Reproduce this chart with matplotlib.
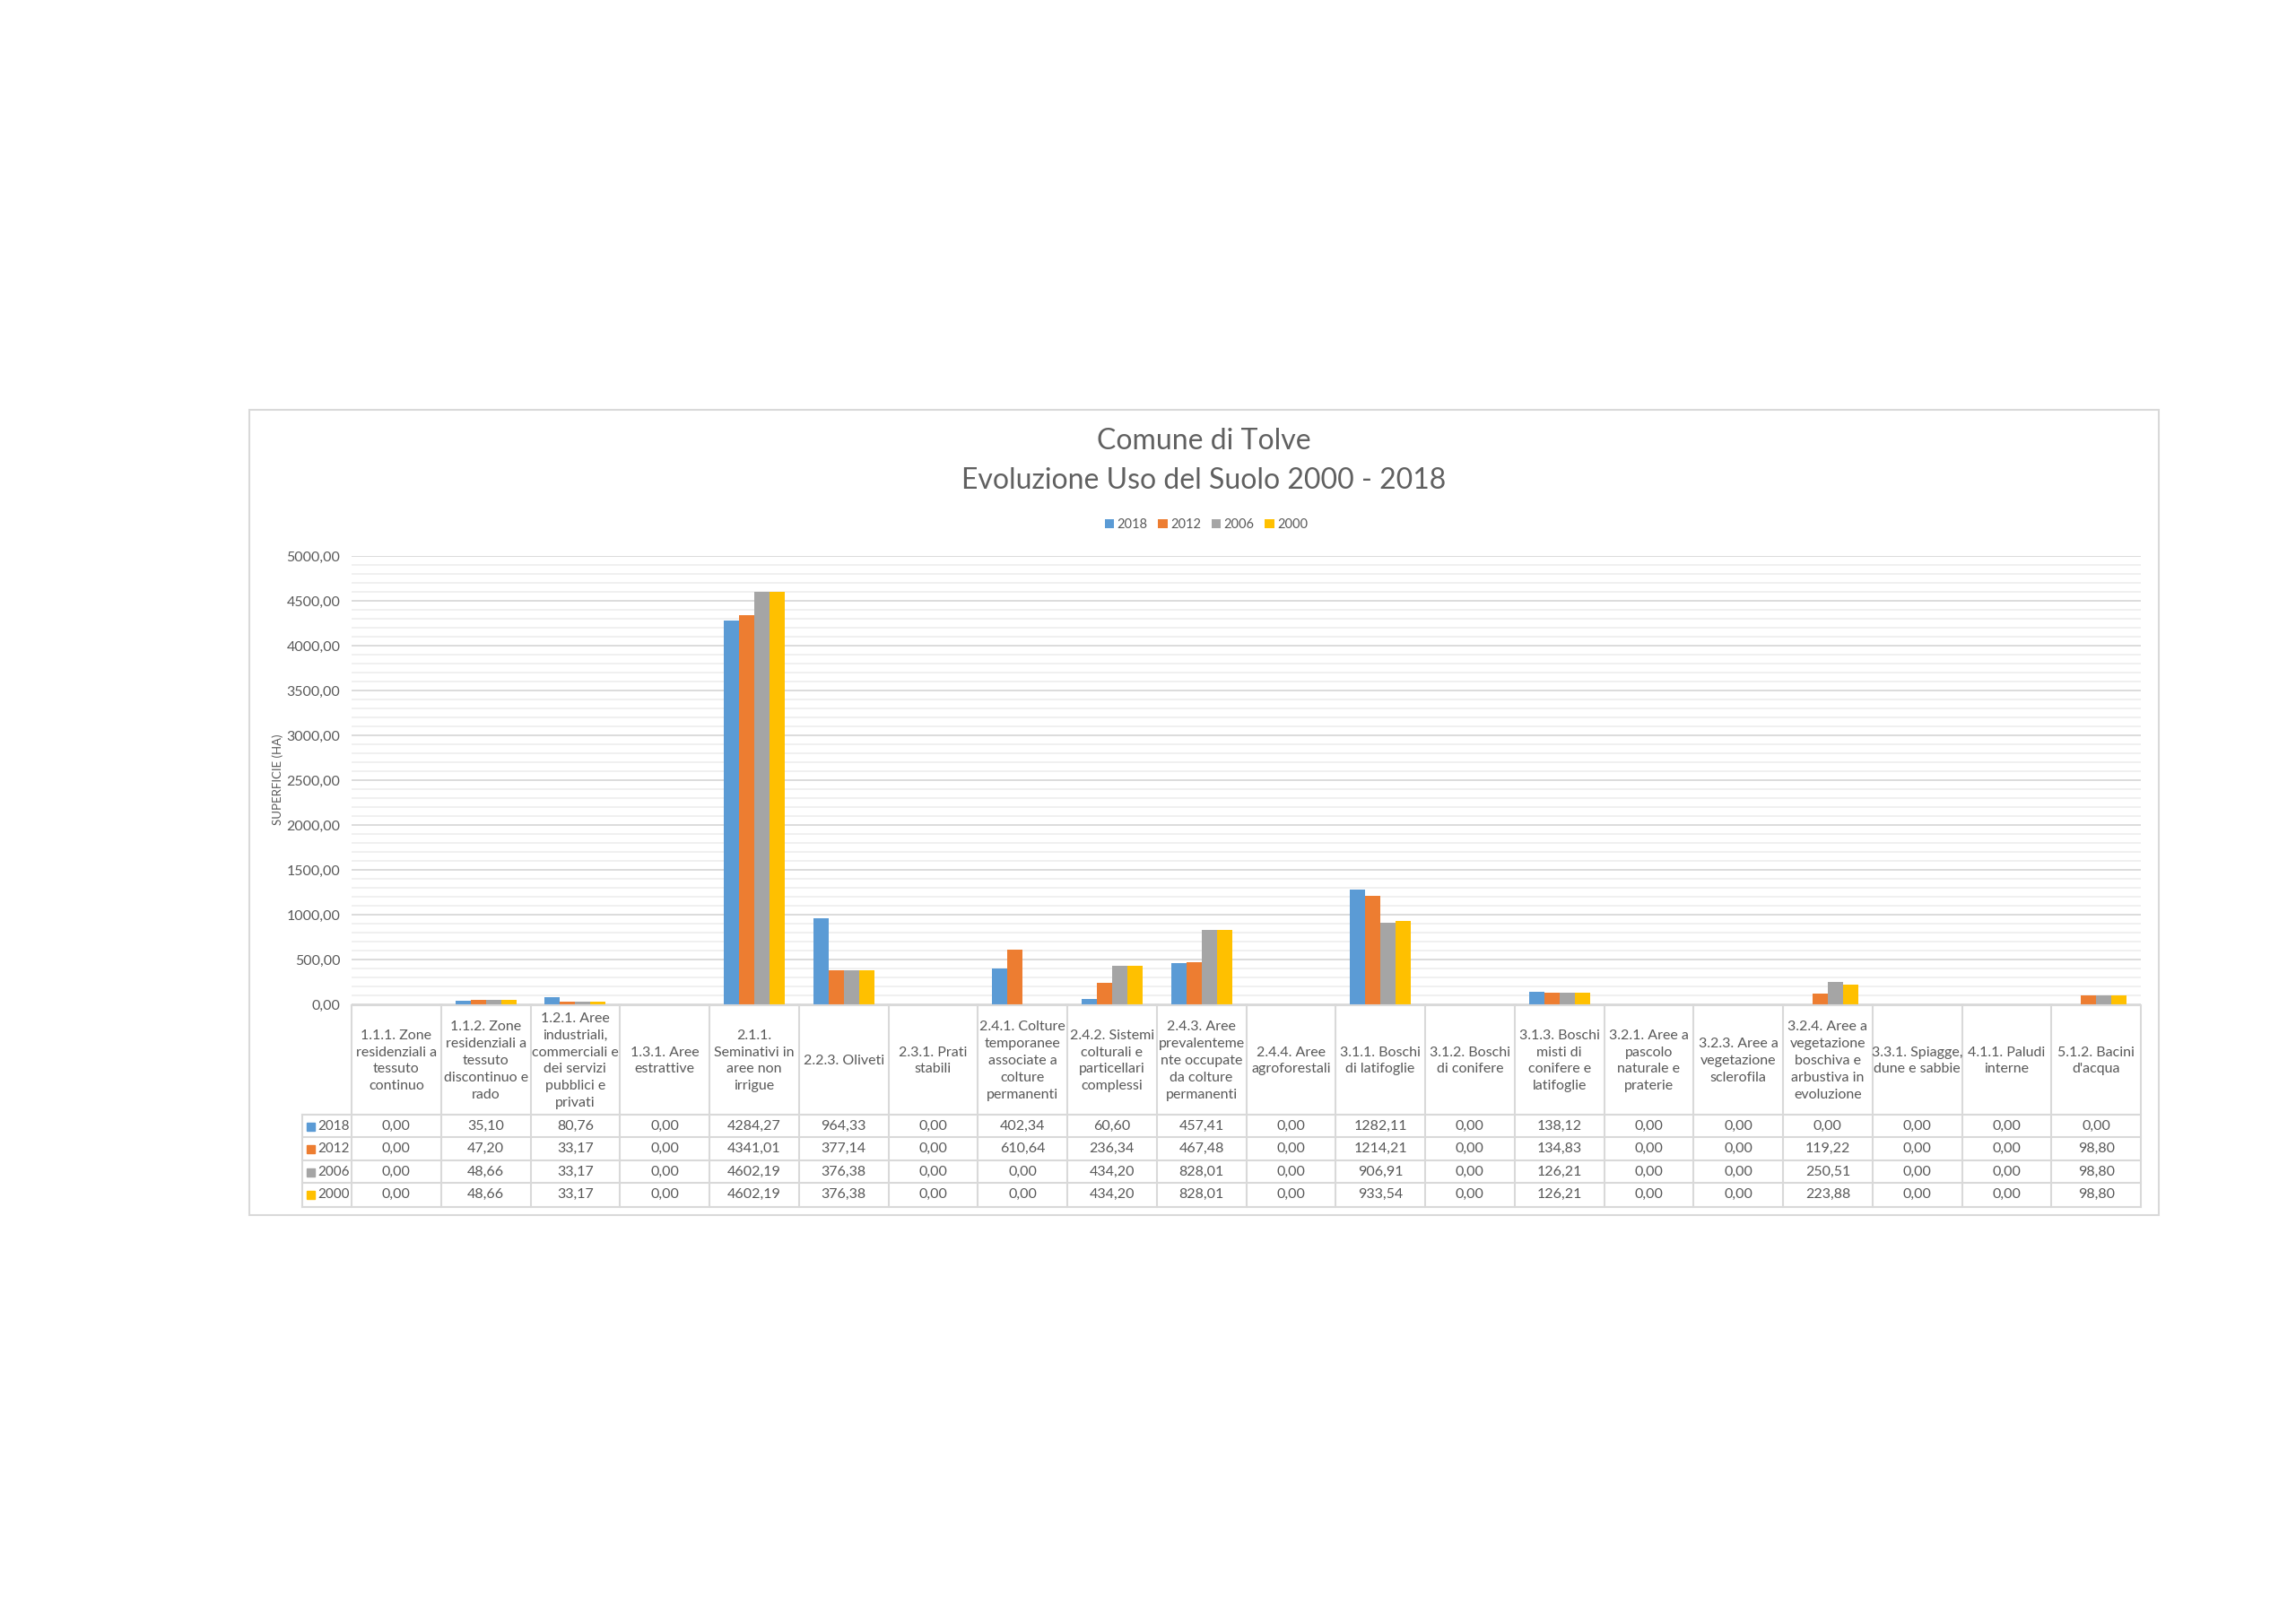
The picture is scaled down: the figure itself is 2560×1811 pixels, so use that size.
import matplotlib
matplotlib.use('Agg')
import matplotlib.pyplot as plt
from matplotlib.patches import Rectangle
from matplotlib.ticker import MultipleLocator, FuncFormatter
import numpy as np

plt.rcParams['font.family'] = ['Lato', 'DejaVu Sans']

categories = [
    "1.1.1. Zone\nresidenziali a\ntessuto\ncontinuo",
    "1.1.2. Zone\nresidenziali a\ntessuto\ndiscontinuo e\nrado",
    "1.2.1. Aree\nindustriali,\ncommerciali e\ndei servizi\npubblici e\nprivati",
    "1.3.1. Aree\nestrattive",
    "2.1.1.\nSeminativi in\naree non\nirrigue",
    "2.2.3. Oliveti",
    "2.3.1. Prati\nstabili",
    "2.4.1. Colture\ntemporanee\nassociate a\ncolture\npermanenti",
    "2.4.2. Sistemi\ncolturali e\nparticellari\ncomplessi",
    "2.4.3. Aree\nprevalenteme\nnte occupate\nda colture\npermanenti",
    "2.4.4. Aree\nagroforestali",
    "3.1.1. Boschi\ndi latifoglie",
    "3.1.2. Boschi\ndi conifere",
    "3.1.3. Boschi\nmisti di\nconifere e\nlatifoglie",
    "3.2.1. Aree a\npascolo\nnaturale e\npraterie",
    "3.2.3. Aree a\nvegetazione\nsclerofila",
    "3.2.4. Aree a\nvegetazione\nboschiva e\narbustiva in\nevoluzione",
    "3.3.1. Spiagge,\ndune e sabbie",
    "4.1.1. Paludi\ninterne",
    "5.1.2. Bacini\nd'acqua",
]

years = ['2018', '2012', '2006', '2000']
colors = ['#5B9BD5', '#ED7D31', '#A5A5A5', '#FFC000']

v2018 = [0.00, 35.10, 80.76, 0.00, 4284.27, 964.33, 0.00, 402.34, 60.60, 457.41,
         0.00, 1282.11, 0.00, 138.12, 0.00, 0.00, 0.00, 0.00, 0.00, 0.00]
v2012 = [0.00, 47.20, 33.17, 0.00, 4341.01, 377.14, 0.00, 610.64, 236.34, 467.48,
         0.00, 1214.21, 0.00, 134.83, 0.00, 0.00, 119.22, 0.00, 0.00, 98.80]
v2006 = [0.00, 48.66, 33.17, 0.00, 4602.19, 376.38, 0.00, 0.00, 434.20, 828.01,
         0.00, 906.91, 0.00, 126.21, 0.00, 0.00, 250.51, 0.00, 0.00, 98.80]
v2000 = [0.00, 48.66, 33.17, 0.00, 4602.19, 376.38, 0.00, 0.00, 434.20, 828.01,
         0.00, 933.54, 0.00, 126.21, 0.00, 0.00, 223.88, 0.00, 0.00, 98.80]
series = [v2018, v2012, v2006, v2000]

W, H = 2560, 1811
TXT = '#595959'
LINE = '#D9D9D9'


def fmt(v):
    return f"{v:.2f}".replace('.', ',')


fig = plt.figure(figsize=(W / 100, H / 100), dpi=100)
fig.patch.set_facecolor('white')

# chart border
fig.add_artist(Rectangle((278 / W, 1 - 1355 / H), (2407 - 278) / W, (1355 - 457) / H,
                         transform=fig.transFigure, fill=False, edgecolor=LINE, lw=1.5))

left, right = 392, 2387
ax = fig.add_axes([left / W, 1 - 1120 / H, (right - left) / W, 500 / H])
x = np.arange(len(categories))
bw = 0.17
handles = []
for k, (vals, c, yr) in enumerate(zip(series, colors, years)):
    h = ax.bar(x + (k - 1.5) * bw, vals, bw, color=c, label=yr, zorder=3)
    handles.append(h)
ax.set_xlim(-0.5, len(categories) - 0.5)
ax.set_ylim(0, 5000)
ax.yaxis.set_major_locator(MultipleLocator(500))
ax.yaxis.set_minor_locator(MultipleLocator(100))
ax.yaxis.set_major_formatter(FuncFormatter(lambda v, p: fmt(v)))
ax.grid(axis='y', which='major', color=LINE, lw=1.3, zorder=0)
ax.grid(axis='y', which='minor', color='#EFEFEF', lw=1.3, zorder=0)
ax.set_axisbelow(True)
for s in ax.spines.values():
    s.set_visible(False)
ax.set_xticks([])
ax.tick_params(axis='y', which='both', length=0, pad=9, labelsize=11.5, labelcolor=TXT)

# data table under the axis
tab = fig.add_axes([left / W, 1 - 1346 / H, (right - left) / W, 226 / H])
tab.set_xlim(-0.5, len(categories) - 0.5)
tab.set_ylim(1346, 1120)
tab.axis('off')
colw = (right - left) / len(categories)
x0 = -0.5 - (left - 337) / colw
row_lines = [1243, 1268, 1294, 1319, 1346]
row_mid = [1256, 1281, 1307, 1332]

tab.plot([-0.5, len(categories) - 0.5], [1121, 1121], color=LINE, lw=1.5, clip_on=False)
for b in np.arange(len(categories) + 1) - 0.5:
    tab.plot([b, b], [1121, 1346], color=LINE, lw=1.5, clip_on=False)
tab.plot([x0, x0], [1243, 1346], color=LINE, lw=1.5, clip_on=False)
for yl in row_lines:
    tab.plot([x0, len(categories) - 0.5], [yl, yl], color=LINE, lw=1.5, clip_on=False)

for i, lab in enumerate(categories):
    tab.text(i, 1183, lab, ha='center', va='center', fontsize=11.5, color=TXT,
             linespacing=1.45, clip_on=False)

sq = 9 / colw
for r, (vals, c, yr) in enumerate(zip(series, colors, years)):
    ym = row_mid[r]
    tab.add_patch(Rectangle((x0 + 5 / colw, ym - 4.5), sq, 9, color=c, clip_on=False))
    tab.text(x0 + 17 / colw, ym, yr, ha='left', va='center', fontsize=11,
             color=TXT, clip_on=False)
    for i, v in enumerate(vals):
        tab.text(i, ym, fmt(v), ha='center', va='center', fontsize=11.5,
                 color=TXT, clip_on=False)

# titles, legend, axis label
fig.text(1342 / W, 1 - 492 / H, 'Comune di Tolve', ha='center', va='center',
         fontsize=23, color='#606060')
fig.text(1342 / W, 1 - 536 / H, 'Evoluzione Uso del Suolo 2000 - 2018', ha='center',
         va='center', fontsize=23, color='#606060')
fig.legend(handles=handles, labels=years, loc='center', ncol=4,
           bbox_to_anchor=(1345 / W, 1 - 585 / H), frameon=False, fontsize=10.5,
           handlelength=0.7, handleheight=0.7, handletextpad=0.25, columnspacing=0.8,
           labelcolor=TXT)
fig.text(310 / W, 1 - 869 / H, 'SUPERFICIE (HA)', rotation=90, ha='center',
         va='center', fontsize=9.5, color=TXT)

fig.savefig('out.png', dpi=100, facecolor='white')
